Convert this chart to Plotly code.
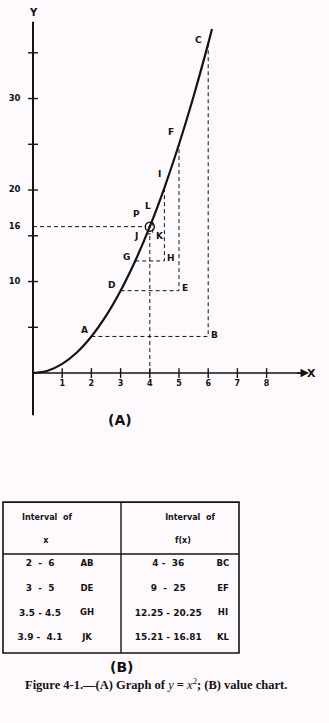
import plotly.graph_objects as go

W, H = 329, 723
INK = "#141214"
BG = "#fdf9fd"

# ---- data ----
curve_x = [0, 0.5, 1, 1.5, 2, 2.5, 3, 3.5, 4, 4.5, 5, 5.5, 6, 6.13]
curve_y = [0, 0.25, 1, 2.25, 4, 6.25, 9, 12.25, 16, 20.25, 25, 30.25, 36, 37.6]

x_lo = [2, 3, 3.5, 3.9]
x_hi = [6, 5, 4.5, 4.1]
y_lo = [4, 9, 12.25, 15.21]
y_hi = [36, 25, 20.25, 16.81]
lab_lo = ["A", "D", "G", "J"]
lab_corner = ["B", "E", "H", "K"]
lab_top = ["C", "F", "I", "L"]

p_x, p_y = 4, 16

x_ticks = [1, 2, 3, 4, 5, 6, 7, 8]
y_ticks = [5, 10, 15, 20, 25, 30, 35]
y_ticklabel_vals = [30, 20, 16, 10]

tbl_x_int = ["2  -  6", "3  -  5", "3.5 - 4.5", "3.9 -  4.1"]
tbl_x_seg = ["AB", "DE", "GH", "JK"]
tbl_f_int = ["4 -  36", "9  -  25", "12.25 - 20.25", "15.21 - 16.81"]
tbl_f_seg = ["BC", "EF", "HI", "KL"]

SANS = "DejaVu Sans"
SERIF = "Liberation Serif"

fig = go.Figure()

# axes lines
fig.add_trace(go.Scatter(x=[0, 0], y=[-4.6, 38.4], mode="lines",
                         line=dict(color=INK, width=2), hoverinfo="skip"))
fig.add_trace(go.Scatter(x=[0, 9.25], y=[0, 0], mode="lines",
                         line=dict(color=INK, width=1.6), hoverinfo="skip"))
# tick marks
fig.add_trace(go.Scatter(x=x_ticks, y=[0] * len(x_ticks), mode="markers",
                         marker=dict(symbol="line-ns", size=7, line=dict(color=INK, width=1.4)),
                         hoverinfo="skip"))
fig.add_trace(go.Scatter(x=[0] * len(y_ticks), y=y_ticks, mode="markers",
                         marker=dict(symbol="line-ew", size=7, line=dict(color=INK, width=1.4)),
                         hoverinfo="skip"))
# tick labels
fig.add_trace(go.Scatter(x=x_ticks, y=[-1.15] * len(x_ticks), mode="text",
                         text=[str(v) for v in x_ticks], textposition="middle center",
                         textfont=dict(family=SANS, size=8, color=INK, weight="bold"),
                         hoverinfo="skip"))
fig.add_trace(go.Scatter(x=[-0.63] * len(y_ticklabel_vals), y=y_ticklabel_vals, mode="text",
                         text=[str(v) for v in y_ticklabel_vals], textposition="middle center",
                         textfont=dict(family=SANS, size=8.5, color=INK, weight="bold"),
                         hoverinfo="skip"))

# dashed construction lines
dx, dy = [], []
for xl, xh, yl, yh in zip(x_lo, x_hi, y_lo, y_hi):
    dx += [xl, xh, xh, None]
    dy += [yl, yl, yh, None]
dx += [p_x, p_x, None, 0, p_x - 0.2, None]
dy += [0, y_lo[-1], None, p_y, p_y, None]
fig.add_trace(go.Scatter(x=dx, y=dy, mode="lines",
                         line=dict(color=INK, width=1, dash="4px,3px"), hoverinfo="skip"))

# curve
fig.add_trace(go.Scatter(x=curve_x, y=curve_y, mode="lines", line_shape="spline",
                         line=dict(color=INK, width=2.2), hoverinfo="skip"))
# point P
fig.add_trace(go.Scatter(x=[p_x], y=[p_y], mode="markers",
                         marker=dict(symbol="circle-open-dot", size=9, color=INK,
                                     line=dict(color=INK, width=1.5)), hoverinfo="skip"))

ann = []
def lab(x, y, t, xs, ys, size=9):
    ann.append(dict(x=x, y=y, xref="x", yref="y", text="<b>" + t + "</b>", showarrow=False,
                    xshift=xs, yshift=ys, font=dict(family=SANS, size=size, color=INK)))

lo_off = [(-7, 6), (-9, 6), (-9, 4), (-11, -2)]
co_off = [(6, 1), (6, 3), (7, 3), (7, -2)]
top_off = [(-10, 4), (-8, 12), (-5, 14), (-5, 13)]
for i in range(4):
    lab(x_lo[i], y_lo[i], lab_lo[i], *lo_off[i])
    lab(x_hi[i], y_lo[i], lab_corner[i], *co_off[i])
    lab(x_hi[i], y_hi[i], lab_top[i], *top_off[i])
lab(p_x, p_y, "P", -13, 13)
lab(0, 39.45, "Y", 0, 0, 10)
lab(9.55, 0, "X", 0, 0, 11)
# arrow on x axis
ann.append(dict(x=9.45, y=0, ax=9.0, ay=0, xref="x", yref="y", axref="x", ayref="y",
                text="", showarrow=True, arrowhead=2, arrowsize=1.2, arrowwidth=1.4,
                arrowcolor=INK))
ann.append(dict(x=2.98, y=-5.14, xref="x", yref="y", text="<b>(A)</b>", showarrow=False,
                font=dict(family=SANS, size=14, color=INK)))

# ---- table (B) on second axes: columns 0..2, rows by index ----
n = len(tbl_x_int)
row_y = list(range(n))
head1, head2 = -1.865, -0.93
sep_y, top_y, bot_y = -0.405, -2.51, n - 0.39

def tcol(xs, ys, texts, size=9.5):
    fig.add_trace(go.Scatter(x=xs, y=ys, xaxis="x2", yaxis="y2", mode="text", text=texts,
                             textposition="middle center",
                             textfont=dict(family=SANS, size=size, color=INK, weight="bold"),
                             hoverinfo="skip"))

tcol([0.314] * n, row_y, tbl_x_int, 9)
tcol([0.712] * n, row_y, tbl_x_seg, 8.5)
tcol([1.40] * n, row_y, tbl_f_int, 9)
tcol([1.864] * n, row_y, tbl_f_seg, 8.5)
tcol([0.373, 0.364, 1.585, 1.525], [head1, head2, head1, head2],
     ["Interval  of", "x", "Interval  of", "f(x)"], 8)

shapes = [
    dict(type="rect", xref="x2", yref="y2", x0=0, x1=2, y0=top_y, y1=bot_y,
         line=dict(color=INK, width=1.6)),
    dict(type="line", xref="x2", yref="y2", x0=1, x1=1, y0=top_y, y1=bot_y,
         line=dict(color=INK, width=1.4)),
    dict(type="line", xref="x2", yref="y2", x0=0, x1=2, y0=sep_y, y1=sep_y,
         line=dict(color=INK, width=1.4)),
]
ann.append(dict(x=1.0, y=4.18, xref="x2", yref="y2", text="<b>(B)</b>", showarrow=False,
                font=dict(family=SANS, size=14, color=INK)))
ann.append(dict(x=1.3, y=4.86, xref="x2", yref="y2", showarrow=False,
                text="<b>Figure 4-1.—(A) Graph of </b><i>y</i><b> = </b><i>x</i><sup>2</sup>"
                     "<b>; (B) value chart.</b>",
                font=dict(family=SERIF, size=12.5, color=INK)))

fig.update_layout(
    width=W, height=H, margin=dict(l=0, r=0, t=0, b=0),
    paper_bgcolor=BG, plot_bgcolor=BG, showlegend=False, hovermode=False,
    xaxis=dict(domain=[0, 1], range=[-1.130, 10.137], visible=False, anchor="y"),
    yaxis=dict(domain=[0.3914, 1], range=[-7.32, 40.77], visible=False, anchor="x"),
    xaxis2=dict(domain=[0, 1], range=[-0.0254, 2.7627], visible=False, anchor="y2"),
    yaxis2=dict(domain=[0, 0.3914], range=[6.445, -5.026], visible=False, anchor="x2"),
    annotations=ann, shapes=shapes,
)

fig.write_html("out.html")
